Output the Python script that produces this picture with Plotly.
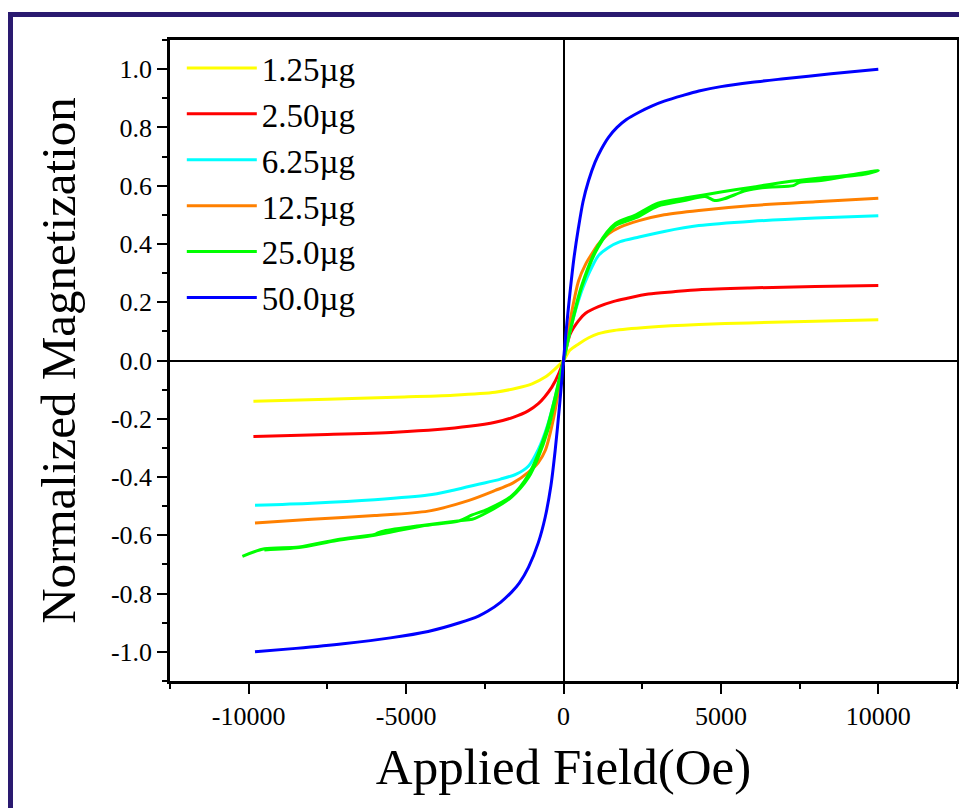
import plotly.graph_objects as go

labels = ["1.25µg", "2.50µg", "6.25µg", "12.5µg", "25.0µg", "50.0µg"]
colors = ["#FFFF00", "#FF0000", "#00FFFF", "#FF8000", "#00FF00", "#0000FF"]

x_tick_vals = [-10000, -5000, 0, 5000, 10000]
x_tick_text = ["-10000", "-5000", "0", "5000", "10000"]
y_tick_vals = [-1.0, -0.8, -0.6, -0.4, -0.2, 0.0, 0.2, 0.4, 0.6, 0.8, 1.0]
y_tick_text = ["-1.0", "-0.8", "-0.6", "-0.4", "-0.2", "0.0", "0.2", "0.4", "0.6", "0.8", "1.0"]

x_125 = [-9850, -7500, -5350, -3500, -2170, -1500, -1000, -580, -300, 0, 200, 480, 800, 1110, 1600, 2700, 4300, 5900, 8000, 10000]
y_125 = [-0.140, -0.133, -0.126, -0.119, -0.109, -0.095, -0.080, -0.057, -0.032, 0, 0.035, 0.057, 0.078, 0.092, 0.103, 0.114, 0.1235, 0.129, 0.135, 0.140]

x_250 = [-9850, -7500, -5350, -4000, -3000, -2170, -1600, -1110, -800, -600, -370, -150, 0, 210, 480, 700, 1110, 1600, 2000, 2700, 3500, 4300, 5900, 8000, 10000]
y_250 = [-0.261, -0.254, -0.246, -0.237, -0.226, -0.212, -0.195, -0.172, -0.148, -0.125, -0.0915, -0.045, 0, 0.09, 0.137, 0.162, 0.185, 0.203, 0.213, 0.228, 0.236, 0.243, 0.249, 0.254, 0.257]

x_625 = [-9800, -8000, -6000, -4300, -3500, -2700, -2000, -1500, -1110, -800, -500, -250, 0, 250, 550, 750, 900, 1110, 1430, 1800, 2400, 3200, 4300, 6000, 8000, 10000]
y_625 = [-0.497, -0.490, -0.478, -0.462, -0.445, -0.425, -0.407, -0.390, -0.362, -0.305, -0.22, -0.12, 0, 0.12, 0.23, 0.285, 0.32, 0.36, 0.388, 0.408, 0.424, 0.443, 0.463, 0.478, 0.489, 0.497]

x_125b = [-9800, -8000, -6000, -4300, -3000, -2170, -1600, -1110, -800, -580, -300, 0, 250, 480, 700, 900, 1110, 1430, 1800, 2400, 3200, 4300, 6000, 8000, 10000]
y_125b = [-0.558, -0.545, -0.532, -0.517, -0.48, -0.446, -0.42, -0.383, -0.35, -0.309, -0.19, 0, 0.16, 0.274, 0.33, 0.366, 0.40, 0.435, 0.458, 0.48, 0.50, 0.515, 0.532, 0.545, 0.557]

x_250b = [-10200, -9500, -8400, -7200, -6000, -5900, -5700, -4500, -3300, -2900, -2400, -1650, -1100, -800, -500, -250, 0, 300, 570, 1100, 1650, 2300, 3000, 3800, 4500, 4800, 5100, 5800, 6500, 7300, 7500, 8100, 9000, 9600, 10000,
          9000, 8000, 7000, 6000, 5000, 4000, 3000, 2300, 1650, 1100, 570, 300, 0, -300, -570, -1100, -1650, -2400, -2900, -3300, -4500, -6000, -7200, -8400, -9500]
y_250b = [-0.672, -0.646, -0.640, -0.615, -0.597, -0.592, -0.585, -0.566, -0.55, -0.545, -0.52, -0.469, -0.40, -0.332, -0.24, -0.13, 0, 0.14, 0.25, 0.389, 0.463, 0.49, 0.53, 0.548, 0.563, 0.549, 0.555, 0.583, 0.595, 0.6, 0.612, 0.617, 0.632, 0.64, 0.652,
          0.635, 0.625, 0.612, 0.595, 0.578, 0.56, 0.54, 0.50, 0.47, 0.395, 0.255, 0.145, 0, -0.14, -0.25, -0.39, -0.465, -0.51, -0.53, -0.55, -0.568, -0.6, -0.618, -0.642, -0.65]

x_500 = [-9800, -8500, -7000, -5500, -4300, -3300, -2700, -2400, -2000, -1650, -1400, -1110, -800, -580, -400, -265, -130, 0, 100, 213, 330, 477, 620, 795, 1000, 1200, 1430, 1700, 2000, 2400, 2800, 3200, 3800, 4300, 5000, 6000, 7000, 8500, 10000]
y_500 = [-1.0, -0.988, -0.972, -0.952, -0.93, -0.90, -0.877, -0.86, -0.83, -0.795, -0.763, -0.709, -0.625, -0.537, -0.43, -0.309, -0.16, 0, 0.12, 0.24, 0.35, 0.457, 0.545, 0.617, 0.68, 0.725, 0.766, 0.80, 0.827, 0.852, 0.873, 0.89, 0.91, 0.925, 0.94, 0.955, 0.967, 0.984, 1.0]

series_x = [x_125, x_250, x_625, x_125b, x_250b, x_500]
series_y = [y_125, y_250, y_625, y_125b, y_250b, y_500]

fig = go.Figure()
for lab, col, xs, ys in zip(labels, colors, series_x, series_y):
    fig.add_trace(go.Scatter(x=xs, y=ys, mode="lines", name=lab,
                             line=dict(color=col, width=3, shape="spline", smoothing=0.8)))

FONT = "Liberation Serif, Times New Roman, serif"
# page has 8px body margin, so figure is sized to the remaining window
OFF = 8
W, H = 967 - OFF, 808 - OFF
L, T = 170 - OFF, 40 - OFF
R = W - (957 - OFF)
B = H - (681 - OFF)
pw, ph = W - L - R, H - T - B

def px_x(p):
    return (p - OFF - L) / pw

def px_y(p):
    return (H - B - (p - OFF)) / ph

frame = "#2a1a70"
fig.add_shape(type="rect", xref="paper", yref="paper",
              x0=px_x(7), x1=px_x(980), y0=px_y(17), y1=px_y(12),
              fillcolor=frame, line_width=0, layer="above")
fig.add_shape(type="rect", xref="paper", yref="paper",
              x0=px_x(7), x1=px_x(13), y0=px_y(820), y1=px_y(12),
              fillcolor=frame, line_width=0, layer="above")

tick_font = dict(family=FONT, size=26, color="black")
axis_common = dict(showline=True, linecolor="black", linewidth=2.5, mirror=True,
                   ticks="outside", tickcolor="black", tickwidth=2, ticklen=10,
                   showgrid=False, zeroline=True, zerolinecolor="black", zerolinewidth=2,
                   tickfont=tick_font)

fig.update_xaxes(range=[-12500, 12500], tickmode="array", tickvals=x_tick_vals, ticktext=x_tick_text,
                 minor=dict(ticks="outside", tickmode="linear", dtick=2500, tick0=0, ticklen=5, tickwidth=2, tickcolor="black"),
                 title=dict(text="Applied Field(Oe)", font=dict(family=FONT, size=51, color="black"), standoff=19),
                 **axis_common)
fig.update_yaxes(range=[-1.1, 1.1], tickmode="array", tickvals=y_tick_vals, ticktext=y_tick_text,
                 minor=dict(ticks="outside", tickmode="linear", dtick=0.1, tick0=0, ticklen=5, tickwidth=2, tickcolor="black"),
                 title=dict(text="Normalized Magnetization", font=dict(family=FONT, size=49, color="black"), standoff=20),
                 **axis_common)

fig.update_layout(
    width=W, height=H,
    margin=dict(l=L, r=R, t=T, b=B, autoexpand=False),
    paper_bgcolor="white", plot_bgcolor="white",
    showlegend=True,
    legend=dict(x=0.015, y=1.0, xanchor="left", yanchor="top",
                bgcolor="rgba(0,0,0,0)", borderwidth=0,
                font=dict(family=FONT, size=33, color="black"),
                itemwidth=70, tracegroupgap=0),
)

fig.write_html("out.html")
